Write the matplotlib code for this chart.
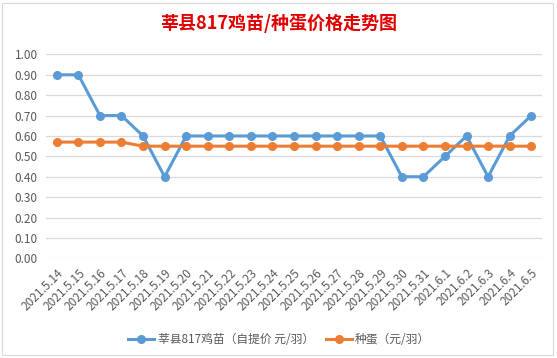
import matplotlib.pyplot as plt
from matplotlib.patches import Rectangle

plt.rcParams['font.family'] = ['Noto Sans CJK SC', 'DejaVu Sans']

dates = ['2021.5.14', '2021.5.15', '2021.5.16', '2021.5.17', '2021.5.18', '2021.5.19',
         '2021.5.20', '2021.5.21', '2021.5.22', '2021.5.23', '2021.5.24', '2021.5.25',
         '2021.5.26', '2021.5.27', '2021.5.28', '2021.5.29', '2021.5.30', '2021.5.31',
         '2021.6.1', '2021.6.2', '2021.6.3', '2021.6.4', '2021.6.5']
chick = [0.90, 0.90, 0.70, 0.70, 0.60, 0.40, 0.60, 0.60, 0.60, 0.60, 0.60, 0.60,
         0.60, 0.60, 0.60, 0.60, 0.40, 0.40, 0.50, 0.60, 0.40, 0.60, 0.70]
egg = [0.57, 0.57, 0.57, 0.57, 0.55, 0.55, 0.55, 0.55, 0.55, 0.55, 0.55, 0.55,
       0.55, 0.55, 0.55, 0.55, 0.55, 0.55, 0.55, 0.55, 0.55, 0.55, 0.55]
yticks = [i / 10 for i in range(11)]

fig = plt.figure(figsize=(5.57, 3.58), dpi=100)
ax = fig.add_axes([0.0826, 0.2785, 0.8905, 0.5695])

x = range(len(dates))
ax.plot(x, chick, color='#5B9BD5', lw=2.2, marker='o', ms=5.5, label='莘县817鸡苗（自提价 元/羽）', zorder=3)
ax.plot(x, egg, color='#ED7D31', lw=2.2, marker='o', ms=5.5, label='种蛋（元/羽）', zorder=3)

ax.set_xlim(-0.5, len(dates) - 0.5)
ax.set_ylim(0, 1.0)
ax.set_yticks(yticks)
ax.set_yticklabels([f'{v:.2f}' for v in yticks], color='#595959', fontsize=8.5)
ax.set_xticks(list(x))
ax.set_xticklabels(dates, rotation=45, ha='right', rotation_mode='anchor',
                   color='#595959', fontsize=8.5)
ax.tick_params(length=0, pad=6)
ax.grid(axis='y', color='#D9D9D9', lw=0.9)
ax.set_axisbelow(True)
for s in ax.spines.values():
    s.set_visible(False)

fig.text(0.5, 0.935, '莘县817鸡苗/种蛋价格走势图', ha='center', va='center',
         color='#E00000', fontsize=13, fontweight='bold')

ax.legend(loc='center', bbox_to_anchor=(0.47, -0.4), ncol=2, frameon=False,
          fontsize=8.5, labelcolor='#595959', handlelength=2.2, columnspacing=1.0,
          handletextpad=0.3)

fig.patches.append(Rectangle((2 / 557, 3 / 358), 551 / 557, 352 / 358, transform=fig.transFigure,
                             fill=False, ec='#D9D9D9', lw=0.8))

fig.savefig('out.png', dpi=100)
